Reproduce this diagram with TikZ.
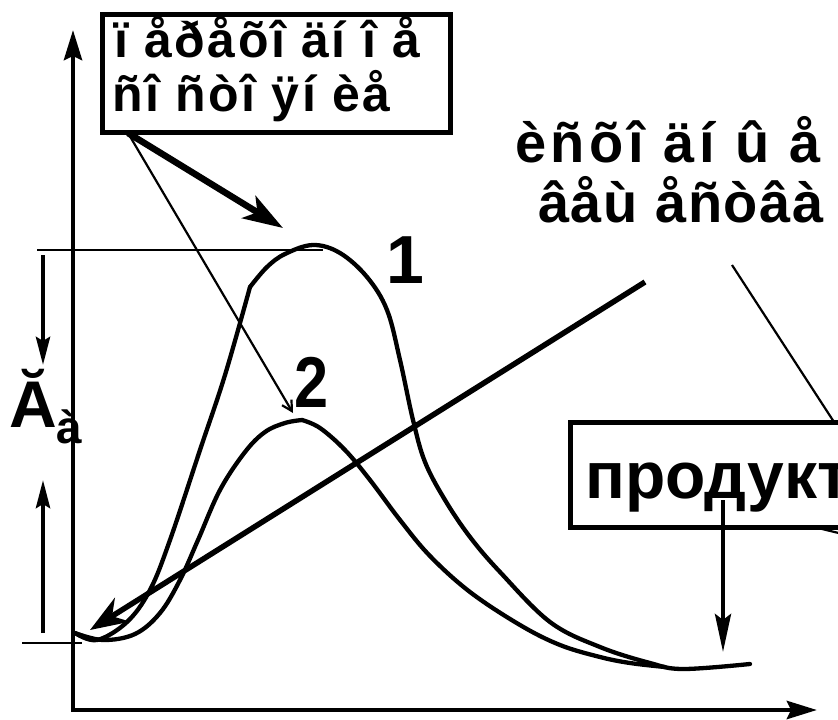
\documentclass[tikz,border=0pt]{standalone}
\usepackage{fontspec}
\setmainfont{Liberation Sans}
\usetikzlibrary{arrows.meta}
\newcommand{\fsz}[1]{\fontsize{#1}{#1}\selectfont}

\begin{document}
\begin{tikzpicture}[
    x=1pt, y=-1pt,
    every node/.style={font=\bfseries, inner sep=0pt},
    axis/.style={line width=4.6pt, line join=miter},
    curve/.style={line width=4.3pt, line cap=round, line join=round},
    guide/.style={line width=2.2pt},
    framebox/.style={draw, line width=4.6pt, fill=white},
    axtip/.tip={Stealth[length=30pt,width=18pt,inset=4pt]},
    vtip/.tip={Stealth[length=28pt,width=14pt,inset=4pt]},
]
\useasboundingbox (0,0) rectangle (838,720);
% reference points
\coordinate (ytop) at (73,30);
\coordinate (xend) at (817,710);
\coordinate (Etop) at (37,250);
\coordinate (peaktop) at (323,250);
\coordinate (Ebot) at (22,643);
\coordinate (startpt) at (82,643);
\coordinate (downa) at (43,255);
\coordinate (downb) at (43,365);
\coordinate (upa) at (43,633);
\coordinate (upb) at (43,480);
\coordinate (tsfoot) at (128,133);
\coordinate (tip1) at (283,228);
\coordinate (tip2) at (293,413);
\coordinate (bigfrom) at (645,282);
\coordinate (bigtip) at (90,630);
\coordinate (reagfoot) at (732,265);
\coordinate (reagoff) at (860,462);
\coordinate (prodleft) at (760,514);
\coordinate (prodoff) at (880,543);
\coordinate (prodfoot) at (723,500);
\coordinate (prodtip) at (723,652);
% axes
\draw[axis, axtip-axtip] (ytop) |- (xend);
% energy levels and activation energy arrows
\draw[guide] (Etop) -- (peaktop);
\draw[guide] (Ebot) -- (startpt);
\draw[line width=4.4pt, -vtip] (downa) -- (downb);
\draw[line width=4.4pt, -vtip] (upa) -- (upb);
\node[anchor=base west, font=\bfseries\fsz{66}] (Ea) at (9,427) {Ă\raisebox{-16pt}{\fsz{46}à}};
% curve 1 (uncatalysed)
\draw[curve] plot[smooth, tension=0.6] coordinates {(75,633) (97,640) (127,622) (150,590)
    (170,540) (200,450) (225,375) (250,287)};
\draw[curve] plot[smooth, tension=0.6] coordinates {(250,287) (267,267) (285,254) (313,245)
    (340,253) (367,277) (387,310) (400,360) (413,420) (425,462) (445,500) (470,537)
    (500,572) (550,622) (600,647) (650,663) (683,669) (750,664)};
% curve 2 (catalysed)
\draw[curve] plot[smooth, tension=0.6] coordinates {(75,633) (103,640) (135,634) (160,613)
    (180,580) (198,540) (220,490) (245,452) (265,432) (285,423) (302,420)};
\draw[curve] plot[smooth, tension=0.6] coordinates {(302,420) (320,428) (345,450) (370,480)
    (400,520) (430,556) (470,592) (520,625) (560,645) (600,657) (630,663) (665,667)};
\node[anchor=base, font=\bfseries\fsz{68}] (n1) at (405,283) {1};
\node[anchor=base, font=\bfseries\fsz{72}, xscale=0.85] (n2) at (312,407) {2};
% reaction coordinate arrow
\draw[line width=5.5pt, -{Stealth[length=38pt,width=28pt,inset=12pt]}] (bigfrom) -- (bigtip);
% transition state box
\draw[line width=6.5pt, -{Stealth[length=40pt,width=26pt,inset=10pt]}] (tsfoot) -- (tip1);
\draw[guide, -{Straight Barb[length=10pt,width=11pt]}] (tsfoot) -- (tip2);
\node[framebox, anchor=north west, minimum width=348pt, minimum height=118pt] (tsbox) at (100,12) {};
\node[anchor=base west, font=\bfseries\fsz{50}\addfontfeature{LetterSpace=5}] (ts1) at (114,57) {ï åðåõî äí î å};
\node[anchor=base west, font=\bfseries\fsz{50}\addfontfeature{LetterSpace=5}] (ts2) at (112,111) {ñî ñòî ÿí èå};
% reagents
\node[anchor=base west, font=\bfseries\fsz{56}\addfontfeature{LetterSpace=8}] (reag1) at (515,162) {èñõî äí û å};
\node[anchor=base west, font=\bfseries\fsz{56}\addfontfeature{LetterSpace=3}] (reag2) at (538,222) {âåù åñòâà};
\draw[guide] (reagfoot) -- (reagoff);
\draw[guide] (prodleft) -- (prodoff);
% product box
\node[framebox, anchor=north west, minimum width=320pt, minimum height=105pt] (prodbox) at (568,420) {};
\node[anchor=base west, font=\bfseries\fsz{66}] (prod) at (585,498) {продукт};
\draw[line width=4.4pt, -{Stealth[length=38pt,width=16pt,inset=6pt]}] (prodfoot) -- (prodtip);
\end{tikzpicture}
\end{document}
